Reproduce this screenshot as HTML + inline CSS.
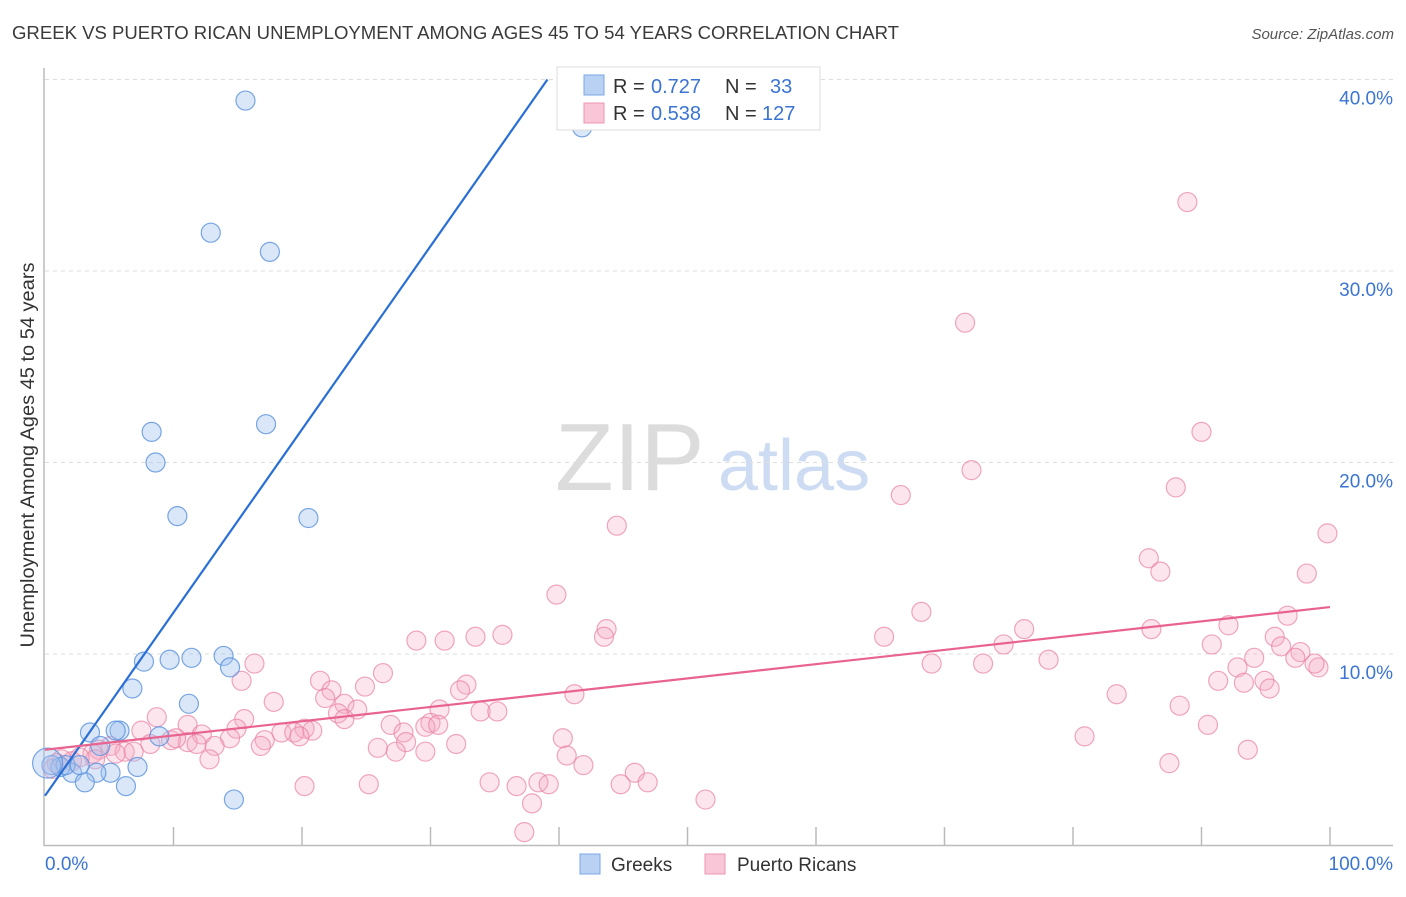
<!DOCTYPE html>
<html><head><meta charset="utf-8"><style>
body{margin:0;background:#fff;font-family:"Liberation Sans",sans-serif;}
svg text{font-family:"Liberation Sans",sans-serif;}
</style></head><body>
<svg id="chart" width="1406" height="892" viewBox="0 0 1406 892" xmlns="http://www.w3.org/2000/svg">
<text x="12" y="39" font-size="18" fill="#3a3a3a" textLength="887" lengthAdjust="spacingAndGlyphs">GREEK VS PUERTO RICAN UNEMPLOYMENT AMONG AGES 45 TO 54 YEARS CORRELATION CHART</text>
<text x="1394" y="39" font-size="15" fill="#555" text-anchor="end" font-style="italic">Source: ZipAtlas.com</text>
<g>
<text x="555" y="490" font-size="96" fill="#dcdcdc" font-family="Liberation Serif,serif">ZIP</text>
<text x="718" y="490" font-size="72" fill="#cddcf2">atlas</text>
</g>
<g id="grid"></g>
<g id="axes"></g>
<g id="marks"></g>
<g>
<rect x="557" y="67" width="263" height="63" fill="#fff" stroke="#ddd"/>
<rect x="584" y="75" width="20" height="20" fill="#b9d1f3" stroke="#7aa7e4"/>
<rect x="584" y="103" width="20" height="20" fill="#f8c6d6" stroke="#ec97b3"/>
<text x="613" y="93" font-size="20" fill="#333">R =</text>
<text x="651" y="93" font-size="20" fill="#3b74d1">0.727</text>
<text x="725" y="93" font-size="20" fill="#333">N =</text>
<text x="770" y="93" font-size="20" fill="#3b74d1">33</text>
<text x="613" y="120" font-size="20" fill="#333">R =</text>
<text x="651" y="120" font-size="20" fill="#3b74d1">0.538</text>
<text x="725" y="120" font-size="20" fill="#333">N =</text>
<text x="762" y="120" font-size="20" fill="#3b74d1">127</text>
</g>
<g>
<rect x="580" y="854" width="20" height="20" fill="#b9d1f3" stroke="#7aa7e4"/>
<text x="611" y="871" font-size="19" fill="#333">Greeks</text>
<rect x="705" y="854" width="20" height="20" fill="#f8c6d6" stroke="#ec97b3"/>
<text x="737" y="871" font-size="19" fill="#333">Puerto Ricans</text>
</g>
<text transform="translate(34,455) rotate(-90)" font-size="19" fill="#333" text-anchor="middle" textLength="385" lengthAdjust="spacingAndGlyphs">Unemployment Among Ages 45 to 54 years</text>
</svg>
<script>
const yTicks=[10,20,30,40];
const yTickLabels=["10.0%","20.0%","30.0%","40.0%"];
const xTickLabels=["0.0%","100.0%"];
const greeksX=[15.6,41.8,12.9,17.5,8.3,17.2,8.6,10.3,20.5,7.7,9.7,11.4,13.9,14.4,6.8,11.2,3.5,5.8,8.9,7.2,5.1,4.0,2.1,3.1,6.3,14.7,1.2,1.6,4.3,5.5,0.5,2.7,0.2];
const greeksY=[38.9,37.5,32.0,31.0,21.6,22.0,20.0,17.2,17.1,9.6,9.7,9.8,9.9,9.3,8.2,7.4,5.9,6.0,5.7,4.1,3.8,3.8,3.8,3.3,3.1,2.4,4.1,4.2,5.2,6.0,4.2,4.2,4.3];
const prX=[88.9,71.6,90.0,72.1,66.6,88.0,44.5,99.8,85.9,86.8,98.2,39.8,68.2,96.7,76.2,86.1,92.1,43.7,65.3,74.6,95.7,33.5,35.6,31.1,28.9,43.5,90.8,96.2,94.1,97.7,97.3,78.1,92.8,99.1,98.8,69.0,73.0,16.3,26.3,15.3,21.4,94.9,91.3,93.3,83.4,95.3,32.8,32.3,24.9,22.3,41.2,17.8,23.3,24.3,30.7,33.9,35.2,88.3,21.8,22.8,15.5,8.7,11.1,14.9,20.2,26.9,30.0,29.6,90.5,80.9,7.5,12.2,18.4,19.4,20.8,27.9,14.4,11.1,9.8,10.2,17.1,8.2,40.3,32.0,25.9,5.1,4.2,3.7,6.2,6.9,5.5,13.2,16.8,28.1,27.3,29.6,40.6,12.8,2.1,41.9,93.6,87.5,3.9,2.7,1.3,0.9,0.6,20.2,25.2,34.6,36.7,38.4,39.2,45.9,44.8,46.9,37.9,51.4,37.3,23.3,30.6,19.8,11.8];
const prY=[33.6,27.3,21.6,19.6,18.3,18.7,16.7,16.3,15.0,14.3,14.2,13.1,12.2,12.0,11.3,11.3,11.5,11.3,10.9,10.5,10.9,10.9,11.0,10.7,10.7,10.9,10.5,10.4,9.8,10.1,9.8,9.7,9.3,9.3,9.5,9.5,9.5,9.5,9.0,8.6,8.6,8.6,8.6,8.5,7.9,8.2,8.4,8.1,8.3,8.1,7.9,7.5,7.4,7.1,7.1,7.0,7.0,7.3,7.7,6.9,6.6,6.7,6.3,6.1,6.1,6.3,6.4,6.2,6.3,5.7,6.0,5.8,5.9,5.9,6.0,5.9,5.6,5.4,5.5,5.6,5.5,5.3,5.6,5.3,5.1,5.2,5.0,4.8,4.9,4.9,4.8,5.2,5.2,5.4,4.9,4.9,4.7,4.5,4.4,4.2,5.0,4.3,4.5,4.6,4.5,4.3,4.0,3.1,3.2,3.3,3.1,3.3,3.2,3.8,3.2,3.3,2.2,2.4,0.7,6.6,6.3,5.7,5.3];
const greeksTrend=[0,2.6,39.1,40];
const prTrend=[0,5.0,100,12.45];

const NS="http://www.w3.org/2000/svg";
const X0=45,X1=1330,Y0=845.5,YPER=19.15;
function sx(v){return X0+(X1-X0)*v/100;}
function sy(v){return Y0-YPER*v;}
function mk(tag,attrs,parent){const e=document.createElementNS(NS,tag);for(const k in attrs)e.setAttribute(k,attrs[k]);parent.appendChild(e);return e;}
const grid=document.getElementById('grid'),axes=document.getElementById('axes'),marks=document.getElementById('marks');
yTicks.forEach((t,i)=>{
  const l=mk('line',{x1:45,x2:1393,y1:sy(t),y2:sy(t),stroke:'#ddd','stroke-dasharray':'4,4'},grid);
  
  
  const tx=mk('text',{x:1393,y:sy(t)+25,'font-size':19,fill:'#3b74d1','text-anchor':'end'},axes);
  tx.textContent=yTickLabels[i];
  
  
});
const al=mk('line',{x1:44,x2:44,y1:68,y2:846,stroke:'#bbb','stroke-width':1.5},axes);


const bl=mk('line',{x1:44,x2:1393,y1:845.5,y2:845.5,stroke:'#bbb','stroke-width':1.5},axes);


for(let k=1;k<=10;k++){const t=mk('line',{x1:sx(k*10),x2:sx(k*10),y1:827,y2:845,stroke:'#bbb','stroke-width':1.5},axes);

}
const xl0=mk('text',{x:45,y:870,'font-size':19,fill:'#3b74d1'},axes);xl0.textContent=xTickLabels[0];


const xl1=mk('text',{x:1393,y:870,'font-size':19,fill:'#3b74d1','text-anchor':'end'},axes);xl1.textContent=xTickLabels[1];


prX.forEach((x,i)=>{const c=mk('circle',{cx:sx(x),cy:sy(prY[i]),r:9.5,fill:'rgba(244,170,196,0.3)',stroke:'rgba(232,130,165,0.7)','stroke-width':1.2},marks);

});
greeksX.forEach((x,i)=>{const big=i===greeksX.length-1;const c=mk('circle',{cx:sx(x),cy:sy(greeksY[i]),r:big?15:9.5,fill:'rgba(160,196,240,0.4)',stroke:'rgba(90,145,220,0.8)','stroke-width':1.2},marks);

});
const tb=mk('line',{x1:sx(greeksTrend[0]),y1:sy(greeksTrend[1]),x2:sx(greeksTrend[2]),y2:sy(greeksTrend[3]),stroke:'#2a6fd6','stroke-width':2.2},marks);


const tp=mk('line',{x1:sx(prTrend[0]),y1:sy(prTrend[1]),x2:sx(prTrend[2]),y2:sy(prTrend[3]),stroke:'#e8648f','stroke-width':2.2},marks);


</script>
</body></html>
